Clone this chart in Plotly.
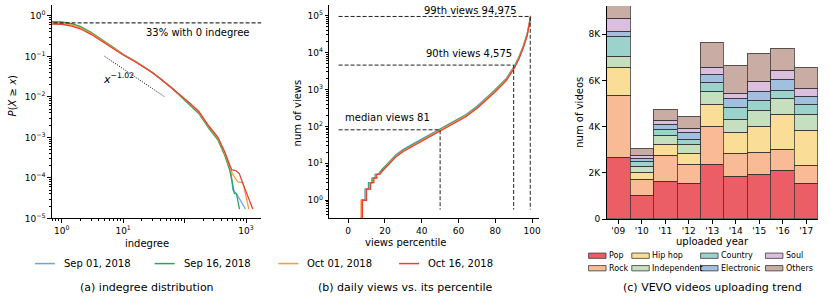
import plotly.graph_objects as go

W, H = 830, 304
FONT = "DejaVu Sans"

# ---------------- data ----------------
dates = ["Sep 01, 2018", "Sep 16, 2018", "Oct 01, 2018", "Oct 16, 2018"]
line_colors = ["#6aa3f0", "#2ca35d", "#fd9a28", "#e5423b"]

# (a) indegree CCDF
indeg_head_x = [0.5, 1, 1.5, 2, 3, 4, 5, 7, 10, 15, 20, 30, 40, 60, 80, 120, 170, 250, 350, 450]
ccdf_head = {
    "Sep 01, 2018": [0.68, 0.67, 0.60, 0.525, 0.38, 0.282, 0.219, 0.162, 0.112, 0.0794, 0.0603, 0.0398,
                     0.0282, 0.0174, 0.0117, 0.0069, 0.0042, 0.00178, 0.00093, 0.00040],
    "Sep 16, 2018": [0.72, 0.71, 0.63, 0.55, 0.395, 0.29, 0.225, 0.165, 0.113, 0.080, 0.0605, 0.0398,
                     0.0280, 0.0172, 0.0114, 0.0066, 0.0039, 0.00165, 0.00085, 0.00036],
    "Oct 01, 2018": [0.67, 0.66, 0.59, 0.515, 0.372, 0.277, 0.215, 0.160, 0.111, 0.079, 0.0600, 0.0398,
                     0.0283, 0.0175, 0.0118, 0.0070, 0.0042, 0.00180, 0.00095, 0.00041],
    "Oct 16, 2018": [0.63, 0.62, 0.55, 0.48, 0.35, 0.263, 0.206, 0.154, 0.108, 0.077, 0.0590, 0.0395,
                     0.0283, 0.0176, 0.0120, 0.0072, 0.0044, 0.00188, 0.00100, 0.00044],
}
indeg_tail_x = {
    "Sep 01, 2018": [537, 575, 610, 690, 980],
    "Sep 16, 2018": [537, 610, 645, 700, 783],
    "Oct 01, 2018": [537, 600, 736, 890, 1000, 1110],
    "Oct 16, 2018": [537, 580, 690, 780, 890, 1070, 1290],
}
ccdf_tail = {
    "Sep 01, 2018": [1.9e-4, 1.26e-4, 5.0e-5, 4.2e-5, 1.7e-5],
    "Sep 16, 2018": [1.66e-4, 6.6e-5, 4.1e-5, 4.0e-5, 1.7e-5],
    "Oct 01, 2018": [2.0e-4, 1.26e-4, 7.9e-5, 7.6e-5, 3.5e-5, 1.7e-5],
    "Oct 16, 2018": [2.2e-4, 1.6e-4, 1.5e-4, 1.26e-4, 7.2e-5, 3.4e-5, 1.7e-5],
}
zero_indeg_level = 0.67
powerlaw_x = [5, 48]
powerlaw_y = [0.1, 0.0099]

# (b) daily views vs percentile
step_views = [0.1, 1, 1, 2, 2, 3, 3, 4, 4, 5, 5]
step_pct = {
    "Sep 01, 2018": [7.4, 7.4, 9.2, 9.2, 11.0, 11.0, 12.9, 12.9, 14.6, 14.6, 16.2],
    "Sep 16, 2018": [7.4, 7.4, 9.4, 9.4, 11.3, 11.3, 13.2, 13.2, 14.9, 14.9, 16.5],
    "Oct 01, 2018": [7.0, 7.0, 9.6, 9.6, 11.8, 11.8, 13.6, 13.6, 15.2, 15.2, 16.8],
    "Oct 16, 2018": [7.8, 7.8, 10.0, 10.0, 12.2, 12.2, 14.0, 14.0, 15.6, 15.6, 17.2],
}
pct_smooth = [18.6, 21.5, 25.9, 30, 35, 42, 49.5, 57, 64, 70, 75, 80, 86, 90.6, 93, 95.2, 97.3, 98.6, 99.2]
views_smooth = {
    "Sep 01, 2018": [7, 10, 17, 24, 33, 52, 84, 135, 210, 350, 580, 1000, 2000, 4500, 8000, 15000, 32000, 62000, 100000],
    "Sep 16, 2018": [7, 9.6, 16, 23, 32, 50, 81, 130, 200, 335, 555, 960, 1920, 4350, 7700, 14500, 31000, 60000, 97000],
    "Oct 01, 2018": [6.5, 9.2, 15.5, 22, 30, 48, 77, 124, 193, 320, 530, 920, 1840, 4150, 7400, 13900, 29500, 58000, 95000],
    "Oct 16, 2018": [6.2, 8.7, 14.8, 21, 29, 45, 73, 117, 182, 305, 505, 870, 1740, 3950, 7000, 13200, 28000, 55000, 92000],
}
ref_pct = [50, 90, 99]
ref_views = [81, 4575, 94975]
ref_labels = ["median views 81", "90th views 4,575", "99th views 94,975"]

# (c) VEVO uploads
years = ["'09", "'10", "'11", "'12", "'13", "'14", "'15", "'16", "'17"]
genres = ["Pop", "Rock", "Hip hop", "Independent", "Country", "Electronic", "Soul", "Others"]
genre_colors = ["#ec5e66", "#f8bb95", "#fade97", "#c6dfbe", "#9bd2cb", "#a1bfde", "#dcbedf", "#c9aca3"]
uploads = {
    "Pop":         [2660, 1010, 1620, 1510, 2360, 1820, 1890, 2070, 1520],
    "Rock":        [2680, 700, 1130, 830, 1620, 980, 990, 930, 800],
    "Hip hop":     [1220, 290, 450, 470, 960, 950, 1130, 1490, 1490],
    "Independent": [460, 250, 420, 410, 560, 540, 690, 710, 680],
    "Country":     [880, 230, 240, 200, 390, 510, 430, 340, 450],
    "Electronic":  [210, 120, 230, 300, 370, 400, 370, 500, 360],
    "Soul":        [540, 120, 170, 170, 290, 210, 420, 370, 350],
    "Others":      [580, 330, 470, 530, 1090, 1210, 1210, 950, 880],
}

# ---------------- helpers ----------------
def X(px):
    return px / W

def Y(py):
    return 1 - py / H

fig = go.Figure()

# (a)
for d, c in zip(dates, line_colors):
    fig.add_trace(go.Scatter(x=indeg_head_x + indeg_tail_x[d], y=ccdf_head[d] + ccdf_tail[d],
                             mode="lines", line=dict(color=c, width=1.3), xaxis="x", yaxis="y",
                             showlegend=False))
fig.add_trace(go.Scatter(x=[0.3, 3000], y=[zero_indeg_level, zero_indeg_level], mode="lines",
                         line=dict(color="black", width=1, dash="4px,2px"), xaxis="x", yaxis="y",
                         showlegend=False))
fig.add_trace(go.Scatter(x=powerlaw_x, y=powerlaw_y, mode="lines",
                         line=dict(color="black", width=1, dash="1px,1.5px"), xaxis="x", yaxis="y",
                         showlegend=False))

# (b)
for d, c in zip(dates, line_colors):
    fig.add_trace(go.Scatter(x=step_pct[d] + pct_smooth, y=step_views + views_smooth[d],
                             mode="lines", line=dict(color=c, width=1.3), xaxis="x2", yaxis="y2",
                             showlegend=False))
for p, v in zip(ref_pct, ref_views):
    fig.add_trace(go.Scatter(x=[-5.2, p, p], y=[v, v, 0.56], mode="lines",
                             line=dict(color="#222", width=1, dash="4px,2px"), xaxis="x2", yaxis="y2",
                             showlegend=False))

# (c)
for g, c in zip(genres, genre_colors):
    fig.add_trace(go.Bar(x=list(range(len(years))), y=uploads[g], marker=dict(color=c,
                         line=dict(color="rgba(50,50,50,0.75)", width=1)),
                         xaxis="x3", yaxis="y3", showlegend=False, name=g))

# ---------------- axes ----------------
tickfont = dict(family=FONT, size=9, color="black")
common = dict(showline=True, linecolor="black", linewidth=1, ticks="outside", ticklen=3.5,
              tickwidth=0.8, tickcolor="black", showgrid=False, zeroline=False, tickfont=tickfont,
              mirror=False, fixedrange=True)

minor_x = [m * 10 ** e for e in range(-1, 4) for m in range(2, 10)]
minor_y_a = [m * 10.0 ** e for e in range(-5, 1) for m in range(2, 10)]
minor_y_b = [m * 10.0 ** e for e in range(-1, 6) for m in range(2, 10)]
minor_style = dict(ticks="outside", ticklen=2, tickwidth=0.6, tickcolor="black", showgrid=False)

yd = [Y(222), Y(5)]
fig.update_layout(
    xaxis=dict(common, type="log", range=[-0.16, 3.25], domain=[X(52), X(262)], anchor="y",
               tickmode="array", tickvals=[1, 10, 100, 1000],
               ticktext=["10<sup>0</sup>", "10<sup>1</sup>", "", "10<sup>3</sup>"],
               minor=dict(minor_style, tickmode="array", tickvals=minor_x)),
    yaxis=dict(common, type="log", range=[-5, 0.27], domain=yd, anchor="x",
               tickmode="array", tickvals=[1e-5, 1e-4, 1e-3, 1e-2, 1e-1, 1],
               ticktext=["10<sup>−5</sup>", "10<sup>−4</sup>", "10<sup>−3</sup>", "10<sup>−2</sup>",
                         "10<sup>−1</sup>", "10<sup>0</sup>"],
               minor=dict(minor_style, tickmode="array", tickvals=minor_y_a)),
    xaxis2=dict(common, range=[-10.3, 103.6], domain=[X(330), X(540)], anchor="y2",
                tickmode="array", tickvals=[0, 20, 40, 60, 80, 100]),
    yaxis2=dict(common, type="log", range=[-0.49, 5.29], domain=yd, anchor="x2",
                tickmode="array", tickvals=[1, 10, 100, 1e3, 1e4, 1e5],
                ticktext=["10<sup>0</sup>", "10<sup>1</sup>", "10<sup>2</sup>", "10<sup>3</sup>",
                          "10<sup>4</sup>", "10<sup>5</sup>"],
                minor=dict(minor_style, tickmode="array", tickvals=minor_y_b)),
    xaxis3=dict(common, range=[-0.5, 8.5], domain=[X(608), X(820)], anchor="y3",
                tickmode="array", tickvals=list(range(len(years))), ticktext=years),
    yaxis3=dict(common, range=[0, 9230], domain=[Y(222.7), Y(6)], anchor="x3",
                tickmode="array", tickvals=[0, 2000, 4000, 6000, 8000],
                ticktext=["0", "2K", "4K", "6K", "8K"]),
    barmode="stack", bargap=0,
    width=W, height=H, margin=dict(l=0, r=0, t=0, b=0),
    paper_bgcolor="white", plot_bgcolor="white",
    font=dict(family=FONT, size=10, color="black"),
    showlegend=False,
)

ann = []
shapes = []

def text(px, py, s, size=10, xanchor="center", angle=0, yanchor="middle"):
    ann.append(dict(x=X(px), y=Y(py), xref="paper", yref="paper", text=s, showarrow=False,
                    xanchor=xanchor, yanchor=yanchor, textangle=angle,
                    font=dict(family=FONT, size=size, color="black")))

# axis titles
text(12, 97, "<i>P</i>(<i>X</i> ≥ <i>x</i>)", angle=-90)
text(298, 115, "num of views", angle=-90)
text(581, 114, "num of videos", angle=-90)
text(147, 248, "indegree")
text(406, 247, "views percentile")
text(714, 246, "uploaded year")

# in-plot texts
text(198, 33, "33% with 0 indegree")
text(119, 80, "<i>x</i><sup>−1.02</sup>", size=11)
text(472, 11, ref_labels[2])
text(470, 54, ref_labels[1])
text(388, 119, ref_labels[0])

# captions
text(147, 292, "(a) indegree distribution", size=11)
text(406, 292, "(b) daily views vs. its percentile", size=11)
text(714, 292, "(c) VEVO videos uploading trend", size=11)

# line legend
leg_x = [35, 155, 279, 400]
for lx, d, c in zip(leg_x, dates, line_colors):
    shapes.append(dict(type="line", xref="paper", yref="paper", x0=X(lx), x1=X(lx + 20),
                       y0=Y(268), y1=Y(268), line=dict(color=c, width=1.5)))
    text(lx + 27, 268, d, xanchor="left")

# bar legend (2 rows x 4 columns, column-major)
col_x = [590, 633.3, 702.3, 767.3]
row_y = [260, 272.7]
for i, (g, c) in enumerate(zip(genres, genre_colors)):
    col, row = i // 2, i % 2
    x0 = col_x[col]
    y0 = row_y[row]
    shapes.append(dict(type="rect", xref="paper", yref="paper", x0=X(x0), x1=X(x0 + 17.5),
                       y0=Y(y0 - 2.7), y1=Y(y0 + 2.7), fillcolor=c,
                       line=dict(color="rgba(50,50,50,0.75)", width=1)))
    text(x0 + 18.5, y0, g, size=8, xanchor="left")

fig.update_layout(annotations=ann, shapes=shapes)
fig.write_html("out.html", config={"displayModeBar": False},
               post_script="document.body.style.margin='0';document.body.style.padding='0';")
